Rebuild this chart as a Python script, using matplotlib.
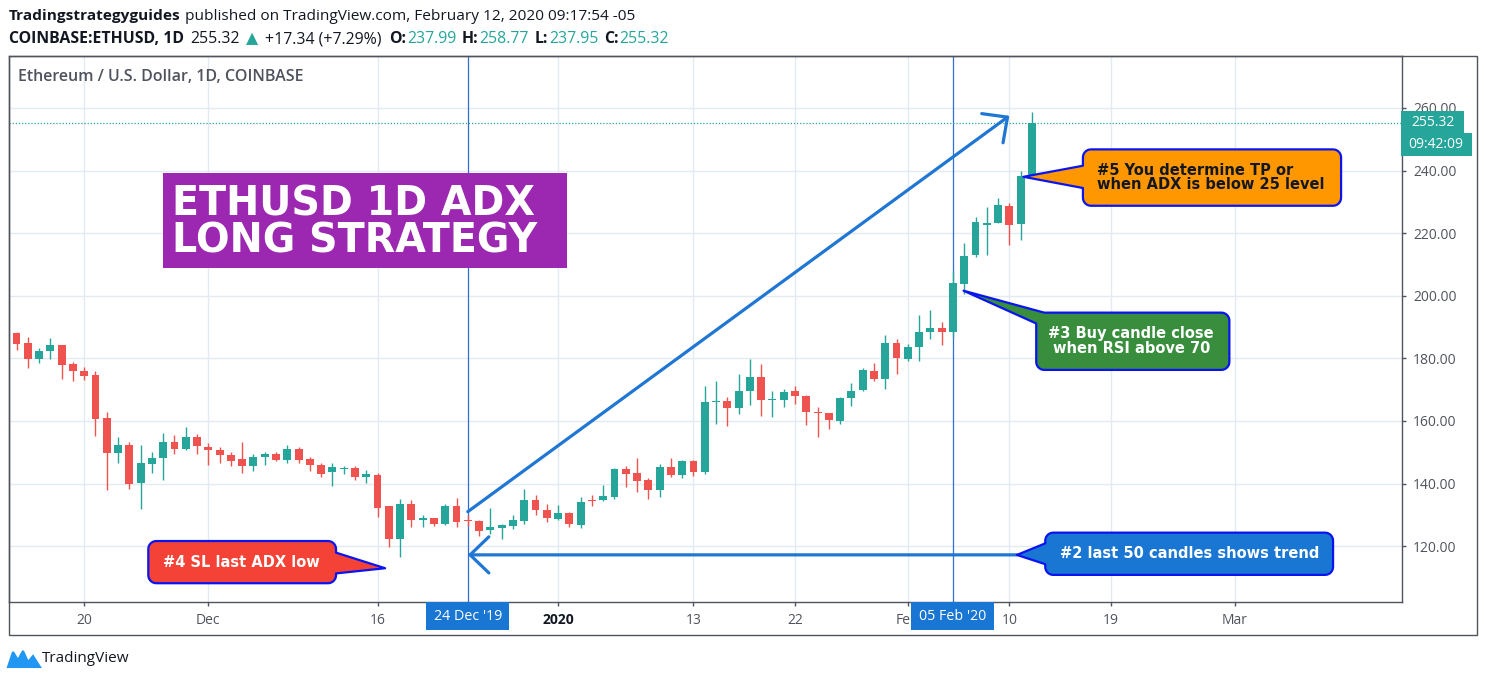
import matplotlib
matplotlib.use('Agg')
import matplotlib.pyplot as plt
import matplotlib.patches as mpatches
import matplotlib.transforms as mtransforms
import numpy as np
import pandas as pd

###############################################################################
#0. Chart data (daily COINBASE:ETHUSD candles)
###############################################################################

dates = pd.date_range('2019-11-14', '2020-02-12', freq='D')

opens = [188.1, 184.9, 179.8, 182.2, 184.1, 178.2, 176.1, 174.6, 161.0, 149.9,
         152.2, 140.3, 146.3, 148.0, 153.3, 151.1, 154.9, 151.8, 150.7, 149.0,
         147.9, 145.6, 148.4, 149.3, 147.6, 151.0, 147.8, 145.9, 143.7, 144.6,
         145.0, 142.1, 142.8, 132.7, 122.2, 133.6, 128.5, 128.9, 127.2, 132.7,
         128.5, 127.9, 125.3, 125.8, 126.4, 128.0, 134.6, 131.4, 128.8, 130.7,
         126.9, 134.8, 134.6, 135.7, 144.7, 143.3, 141.0, 138.0, 145.2, 142.8,
         147.1, 143.7, 166.0, 166.5, 164.1, 169.7, 173.9, 166.7, 166.8, 169.7,
         168.1, 163.0, 162.5, 160.1, 167.4, 169.9, 176.1, 173.4, 184.9, 179.8,
         183.5, 188.3, 189.7, 188.3, 203.7, 212.9, 222.7, 223.3, 228.7, 222.9,
         237.99]
highs = [188.5, 186.9, 183.3, 186.5, 184.4, 178.8, 177.3, 175.8, 163.0, 155.0,
         153.3, 152.2, 150.2, 156.2, 155.4, 158.2, 155.9, 153.1, 151.6, 150.2,
         153.3, 149.5, 150.2, 150.0, 152.3, 151.8, 148.6, 146.7, 146.5, 145.5,
         145.5, 144.2, 143.3, 132.8, 135.2, 134.6, 129.8, 129.0, 133.6, 135.5,
         129.8, 128.4, 132.3, 127.2, 130.0, 138.3, 136.4, 133.6, 133.0, 130.8,
         135.7, 136.4, 139.4, 145.0, 145.5, 148.2, 141.9, 146.3, 148.2, 147.4,
         147.4, 171.0, 172.6, 167.6, 175.0, 179.8, 178.2, 169.7, 170.2, 171.3,
         168.2, 164.6, 162.6, 167.8, 172.2, 177.0, 178.5, 187.5, 186.2, 184.6,
         193.8, 195.4, 191.7, 208.0, 216.8, 225.0, 228.4, 231.3, 229.6, 239.9,
         258.77]
lows = [182.7, 177.0, 178.6, 179.8, 173.4, 172.6, 173.0, 155.1, 137.9, 146.7,
        138.3, 132.0, 143.5, 141.1, 149.5, 150.7, 149.5, 145.9, 146.7, 145.5,
        143.2, 143.9, 146.0, 147.1, 146.5, 146.7, 144.0, 142.1, 139.3, 142.9,
        141.2, 140.2, 129.3, 119.6, 116.5, 126.1, 126.1, 126.5, 126.6, 126.1,
        126.3, 123.2, 124.0, 122.4, 125.6, 127.2, 130.0, 127.7, 128.4, 126.0,
        125.8, 132.8, 134.4, 135.1, 138.9, 137.3, 135.1, 135.7, 142.1, 141.8,
        142.4, 143.1, 159.1, 158.3, 162.3, 165.1, 161.5, 161.2, 164.4, 165.5,
        158.8, 154.8, 157.3, 159.1, 164.9, 169.7, 172.9, 170.1, 175.0, 179.0,
        179.0, 186.2, 184.3, 186.7, 200.7, 212.4, 213.0, 223.1, 216.2, 217.7,
        237.95]
closes = [184.6, 179.8, 182.5, 184.1, 178.0, 175.9, 174.4, 160.7, 149.9, 152.2,
          139.9, 146.5, 148.2, 153.3, 151.1, 154.9, 151.9, 150.7, 149.2, 147.3,
          145.6, 148.5, 149.5, 147.6, 151.0, 147.6, 146.0, 143.1, 145.4, 145.0,
          142.1, 143.1, 132.3, 122.2, 133.6, 128.5, 128.9, 127.2, 132.7, 127.6,
          128.0, 124.8, 126.0, 126.9, 128.2, 134.6, 131.4, 129.0, 130.6, 127.2,
          134.2, 134.4, 135.9, 144.7, 143.1, 140.8, 138.0, 145.2, 142.8, 147.1,
          143.7, 166.1, 166.5, 164.1, 169.7, 173.9, 166.8, 167.0, 169.2, 168.0,
          162.8, 162.6, 160.3, 167.4, 169.7, 176.4, 173.4, 184.9, 180.0, 183.7,
          188.5, 189.7, 188.3, 204.0, 212.8, 223.5, 223.3, 229.1, 222.5, 238.2,
          255.32]

priceTicks = [120, 140, 160, 180, 200, 220, 240, 260]
timeTickDates = ['2019-11-20', '2019-12-01', '2019-12-16', '2020-01-01', '2020-01-13',
                 '2020-01-22', '2020-02-01', '2020-02-10', '2020-02-19', '2020-03-01']
timeTickLabels = ['20', 'Dec', '16', '2020', '13', '22', 'Feb', '10', '19', 'Mar']
markedDates = ['2019-12-24', '2020-02-05']
markedLabels = ["24 Dec '19", "05 Feb '20"]
lastPrice = 255.32

###############################################################################
#1. Colours and fonts
###############################################################################

upColor = '#26a69a'
downColor = '#ef5350'
gridColor = '#e4eaf1'
axisText = '#50535e'
darkText = '#131722'
arrowBlue = '#1f76d3'
lineBlue = '#2f6fd6'
uiFont = 'Open Sans'
noteFont = 'DejaVu Sans'

W, H = 1485, 682
fig = plt.figure(figsize=(W / 100, H / 100), dpi=100)
fig.patch.set_facecolor('white')
screen = mtransforms.IdentityTransform()
renderer = fig.canvas.get_renderer()

#Plot area in pixels (measured from the top left of the picture)
plotLeft, plotRight, plotTop, plotBottom = 8.5, 1402, 56, 601.5
ax = fig.add_axes([plotLeft / W, 1 - plotBottom / H,
                   (plotRight - plotLeft) / W, (plotBottom - plotTop) / H])
ax.set_xlim(-0.71, 122.8)
ax.set_ylim(102.3, 276.6)
ax.set_autoscale_on(False)

def toPx(x, y):
    return ax.transData.transform((x, y))

def figText(px, py, s, **kw):
    return fig.text(px, H - py, s, transform=screen, **kw)

def textRow(px, py, parts, size):
    #Writes differently styled pieces one after the other, gap in pixels before each
    for gap, s, wt, col in parts:
        px += gap
        t = figText(px, py, s, fontsize=size, fontweight=wt, color=col,
                    family=[uiFont, 'DejaVu Sans'], va='center')
        px = t.get_window_extent(renderer=renderer).x1

###############################################################################
#2. Candles
###############################################################################

xs = np.arange(len(dates))
o, h, l, c = map(np.array, (opens, highs, lows, closes))
candleColors = np.where(c >= o, upColor, downColor)
ax.vlines(xs, l, h, colors=candleColors, lw=1.0, zorder=3)
bodyBottom = np.minimum(o, c)
bodyHeight = np.maximum(np.abs(c - o), 0.4) #Dojis still get a visible body
ax.bar(xs, bodyHeight, bottom=bodyBottom, width=0.7, color=candleColors, linewidth=0, zorder=4)

###############################################################################
#3. Axes, grid and frame
###############################################################################

tickIdx = [(pd.Timestamp(d) - dates[0]).days for d in timeTickDates]
ax.set_xticks(tickIdx)
ax.set_xticklabels(timeTickLabels)
ax.set_yticks(priceTicks)
ax.set_yticklabels(['%.2f' % p for p in priceTicks])
ax.yaxis.tick_right()
ax.grid(True, color=gridColor, lw=1.0, zorder=0)
ax.set_axisbelow(True)
ax.tick_params(axis='y', length=3, width=1, color=axisText, pad=5, labelsize=10,
               labelcolor=axisText)
ax.tick_params(axis='x', length=3, width=1, color=axisText, pad=5, labelsize=10,
               labelcolor=axisText)
for lab in ax.get_xticklabels() + ax.get_yticklabels():
    lab.set_family(uiFont)
    if lab.get_text() == '2020':
        lab.set_fontweight('bold')
        lab.set_color(darkText)
for sp in ax.spines.values():
    sp.set_color(axisText)
    sp.set_linewidth(1)

#Outer frame around the chart with price and time scales
fig.add_artist(mpatches.Rectangle((plotLeft, H - 635), 1477 - plotLeft, 635 - plotTop,
                                  transform=screen, fill=False, ec=axisText, lw=1))

#Marked date lines and last price line
for d in markedDates:
    ax.axvline((pd.Timestamp(d) - dates[0]).days, color=lineBlue, lw=0.9, zorder=2)
ax.axhline(lastPrice, color=upColor, lw=0.9, ls=(0, (1, 1.5)), zorder=2)

###############################################################################
#4. Texts around the chart
###############################################################################

textRow(9, 16, [(0, 'Tradingstrategyguides', 'bold', darkText),
                (4, 'published on TradingView.com, February 12, 2020 09:17:54 -05',
                 'normal', darkText)], 11.1)
textRow(9, 39.3, [(0, 'COINBASE:ETHUSD, 1D', 'bold', darkText),
                  (6, '255.32', 'normal', darkText),
                  (6, '\u25b2', 'normal', upColor),
                  (7, '+17.34 (+7.29%)', 'normal', darkText),
                  (8, 'O:', 'bold', darkText), (1, '237.99', 'normal', upColor),
                  (5, 'H:', 'bold', darkText), (1, '258.77', 'normal', upColor),
                  (6, 'L:', 'bold', darkText), (1, '237.95', 'normal', upColor),
                  (6, 'C:', 'bold', darkText), (1, '255.32', 'normal', upColor)], 11.4)

figText(18, 77, 'Ethereum / U.S. Dollar, 1D, COINBASE', fontsize=11.5, fontweight='semibold',
        color=axisText, family=uiFont, va='center')

#Last price and countdown labels on the price scale
lastY = H - toPx(0, lastPrice)[1]
fig.add_artist(mpatches.Rectangle((1401, H - lastY - 11.5), 63, 23, transform=screen,
                                  fc=upColor, ec='none', zorder=5))
figText(1432.5, lastY, '%.2f' % lastPrice, fontsize=10, color='white', family=uiFont,
        ha='center', va='center', zorder=6)
fig.add_artist(mpatches.Rectangle((1401, H - 155.7), 70.7, 22.4, transform=screen,
                                  fc=upColor, ec='none', zorder=5))
figText(1436, 144.5, '09:42:09', fontsize=10, color='white', family=uiFont,
        ha='center', va='center', zorder=6)

#Highlighted dates on the time scale
for d, lab in zip(markedDates, markedLabels):
    cx = toPx((pd.Timestamp(d) - dates[0]).days, 0)[0]
    fig.add_artist(mpatches.Rectangle((cx - 41.5, H - 630), 83, 27.7, transform=screen,
                                      fc='#1976d2', ec='none', zorder=5))
    figText(cx, 616.5, lab, fontsize=10.3, color='white', family=uiFont,
            ha='center', va='center', zorder=6)

#TradingView logo
logoX = np.array([8, 13, 18, 23, 28, 33, 40])
logoY = np.array([667, 652, 660, 651, 662, 656, 667])
fig.add_artist(plt.Polygon(np.column_stack([logoX, H - logoY]), closed=True,
                           transform=screen, fc='#2196f3', ec='#2196f3', lw=1.5))
figText(42, 659, 'TradingView', fontsize=11, color=darkText, family=uiFont, va='center')

###############################################################################
#5. Strategy annotations
###############################################################################

#Title box
ax.add_patch(mpatches.Rectangle((13.0, 208.85), 35.8, 30.35, fc='#9c27b0', ec='none',
                                zorder=6, clip_on=False))
ax.text(13.8, 229.0, 'ETHUSD 1D ADX', fontsize=28.5, fontweight='bold', color='white',
        family=noteFont, va='center', ha='left', zorder=7)
ax.text(13.8, 217.3, 'LONG STRATEGY', fontsize=28.5, fontweight='bold', color='white',
        family=noteFont, va='center', ha='left', zorder=7)

#Trend arrows
arrowKw = dict(arrowstyle='->,head_length=1.35,head_width=1.3', color=arrowBlue, lw=2.3,
               shrinkA=0, shrinkB=0)
ax.annotate('', xy=(88.0, 257.5), xytext=(40.0, 131.0), arrowprops=arrowKw, zorder=5)
ax.annotate('', xy=(40.0, 117.2), xytext=(88.7, 117.2), arrowprops=arrowKw, zorder=5)

def roundedOutline(x0, y0, x1, y1, r, n=30):
    #Dense outline of a rounded rectangle in pixels, counter clockwise
    arcs = []
    for cx, cy, a0, a1 in [(x1 - r, y0 + r, -90, 0), (x1 - r, y1 - r, 0, 90),
                           (x0 + r, y1 - r, 90, 180), (x0 + r, y0 + r, 180, 270)]:
        ang = np.radians(np.linspace(a0, a1, 8))
        arcs.append(np.column_stack([cx + r * np.cos(ang), cy + r * np.sin(ang)]))
    pts = []
    for k in range(4):
        pts.extend(arcs[k])
        pts.extend(np.linspace(arcs[k][-1], arcs[(k + 1) % 4][0], n)[1:-1])
    return np.array(pts)

def callout(box, bases, tip, fc, text, textPos, textColor, ha='left'):
    (bx0, by0), (bx1, by1) = toPx(box[0], box[2]), toPx(box[1], box[3])
    outline = roundedOutline(bx0, by0, bx1, by1, 8)
    idx = sorted(int(np.argmin(np.hypot(*(outline - toPx(*b)).T))) for b in bases)
    tipPx = toPx(*tip)
    inner = idx[1] - idx[0]
    if inner <= len(outline) - inner:
        pts = np.vstack([outline[:idx[0] + 1], tipPx, outline[idx[1]:]])
    else:
        pts = np.vstack([outline[idx[0]:idx[1] + 1], tipPx])
    ax.add_patch(plt.Polygon(pts, closed=True, transform=screen, fc=fc, ec='#0a14f0', lw=1.6,
                             joinstyle='round', zorder=8, clip_on=False))
    for (tx, ty), line in zip(textPos, text):
        ax.text(tx, ty, line, fontsize=10.5, fontweight='bold', color=textColor,
                family=noteFont, ha=ha, va='center', zorder=9)

callout((94.52, 117.4, 228.75, 246.76), [(94.52, 241.4), (94.52, 234.6)], (89.25, 238.0),
        '#ff9800', ['#5 You determine TP or', 'when ADX is below 25 level'],
        [(95.8, 240.0), (95.8, 235.6)], darkText)
callout((90.38, 107.5, 176.3, 194.6), [(91.3, 194.6), (90.38, 191.2)], (83.94, 201.6),
        '#388e3c', ['#3 Buy candle close', 'when RSI above 70'],
        [(98.8, 188.0), (98.8, 183.1)], 'white', ha='center')
callout((11.68, 28.32, 108.14, 121.62), [(28.32, 118.04), (28.32, 111.34)], (32.67, 112.93),
        '#f44336', ['#4 SL last ADX low'], [(12.96, 114.7)], 'white')
callout((91.18, 116.69, 110.8, 124.3), [(91.18, 120.92), (91.18, 114.21)], (88.67, 117.18),
        '#1976d2', ['#2 last 50 candles shows trend'], [(92.51, 117.5)], 'white')

###############################################################################
#6. Save figure
###############################################################################

fig.savefig('out.png', dpi=100)
